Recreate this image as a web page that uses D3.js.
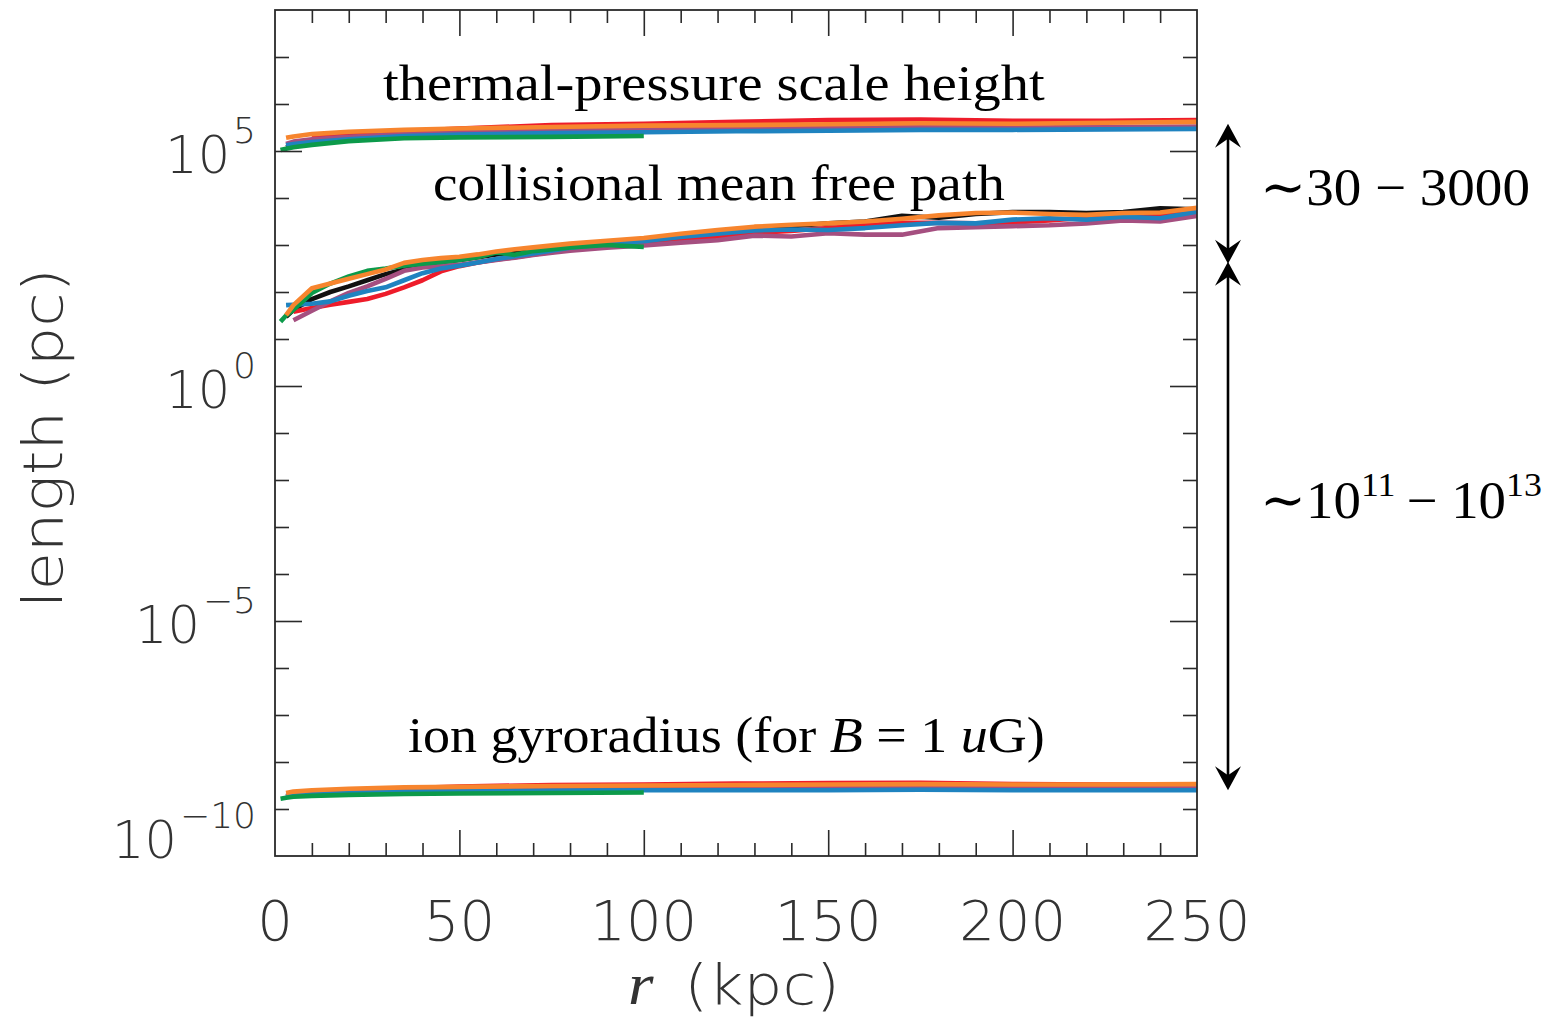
<!DOCTYPE html>
<html>
<head>
<meta charset="utf-8">
<script src="https://cdn.jsdelivr.net/npm/d3@7"></script>
<style>
  html, body { margin: 0; padding: 0; background: #fff; }
  svg { display: block; }
</style>
</head>
<body>
<svg id="chart" width="1552" height="1024"></svg>
<script>
// Radii (kpc) at which the profiles are sampled
const rCoarse = [1.5, 3, 5, 10, 20, 35, 50, 75, 100, 125, 150, 175, 200, 225, 250];
const rFine = [1.5, 3, 5, 10, 15, 20, 25, 30, 35, 40, 45, 50, 55, 60, 65, 70, 80, 90, 100,
               110, 120, 130, 140, 150, 160, 170, 180, 190, 200, 210, 220, 230, 240, 250];

// log10 of thermal-pressure scale height (pc), on rCoarse
const heightBlack  = [null, 5.08, 5.12, 5.17, 5.24, 5.33, 5.38, 5.42, 5.45, 5.47, 5.49, 5.51, 5.49, 5.48, 5.50];
const heightRed    = [null, null, null, 5.30, 5.36, 5.42, 5.48, 5.55, 5.58, 5.62, 5.66, 5.67, 5.64, 5.64, 5.66];
const heightPurple = [null, 5.15, 5.20, 5.25, 5.30, 5.36, 5.40, 5.44, 5.47, 5.49, 5.50, 5.51, 5.50, 5.51, 5.52];
const heightBlue   = [null, 5.12, 5.15, 5.19, 5.25, 5.32, 5.35, 5.38, 5.40, 5.42, 5.43, 5.45, 5.45, 5.46, 5.47];
const heightGreen  = [5.02, 5.05, 5.08, 5.13, 5.21, 5.27, 5.29, 5.30, 5.32, null, null, null, null, null, null];
const heightOrange = [null, 5.28, 5.31, 5.36, 5.41, 5.45, 5.48, 5.51, 5.54, 5.55, 5.57, 5.59, 5.58, 5.60, 5.62];

// log10 of collisional mean free path (pc), on rFine
const mfpBlack  = [null, 1.47, 1.62, 1.85, 2.00, 2.12, 2.25, 2.38, 2.48, 2.58, 2.64, 2.68, 2.74, 2.80, 2.85, 2.90, 2.98,
                   3.05, 3.10, 3.20, 3.28, 3.36, 3.40, 3.46, 3.50, 3.62, 3.58, 3.66, 3.70, 3.70, 3.68, 3.70, 3.78, 3.76];
const mfpRed    = [null, null, 1.58, 1.66, 1.73, 1.79, 1.85, 1.96, 2.10, 2.25, 2.44, 2.55, 2.63, 2.69, 2.74, 2.80, 2.90,
                   2.97, 3.04, 3.12, 3.18, 3.26, 3.30, 3.36, 3.42, 3.47, 3.47, 3.46, 3.48, 3.52, 3.58, 3.62, 3.64, 3.68];
const mfpPurple = [null, null, 1.40, 1.60, 1.80, 1.98, 2.12, 2.28, 2.45, 2.52, 2.55, 2.58, 2.63, 2.68, 2.73, 2.79, 2.88,
                   2.94, 2.99, 3.05, 3.10, 3.20, 3.18, 3.25, 3.22, 3.22, 3.36, 3.38, 3.40, 3.42, 3.46, 3.52, 3.50, 3.62];
const mfpBlue   = [null, 1.72, 1.73, 1.75, 1.80, 1.92, 2.02, 2.10, 2.25, 2.40, 2.50, 2.56, 2.63, 2.70, 2.76, 2.82, 2.94,
                   3.02, 3.08, 3.17, 3.24, 3.31, 3.33, 3.32, 3.36, 3.42, 3.47, 3.46, 3.54, 3.57, 3.54, 3.60, 3.57, 3.71];
const mfpGreen  = [1.37, 1.50, 1.62, 1.98, 2.18, 2.33, 2.45, 2.50, 2.56, 2.60, 2.64, 2.68, 2.74, 2.84, 2.79, 2.87, 2.95,
                   3.00, 2.96, null, null, null, null, null, null, null, null, null, null, null, null, null, null, null];
const mfpOrange = [null, 1.51, 1.72, 2.08, 2.18, 2.28, 2.38, 2.48, 2.62, 2.68, 2.72, 2.75, 2.80, 2.86, 2.91, 2.95, 3.03,
                   3.09, 3.15, 3.24, 3.32, 3.39, 3.43, 3.46, 3.50, 3.56, 3.63, 3.68, 3.69, 3.66, 3.64, 3.68, 3.69, 3.79];

// log10 of ion gyroradius (pc) for B = 1 uG, on rCoarse
const gyroBlack  = [null, -8.74, -8.71, -8.67, -8.63, -8.60, -8.58, -8.57, -8.56, -8.55, -8.55, -8.54, -8.55, -8.56, -8.56];
const gyroRed    = [null, null, null, -8.64, -8.60, -8.56, -8.52, -8.49, -8.48, -8.46, -8.45, -8.44, -8.47, -8.48, -8.48];
const gyroPurple = [null, -8.72, -8.70, -8.66, -8.62, -8.59, -8.57, -8.56, -8.55, -8.54, -8.54, -8.53, -8.54, -8.54, -8.54];
const gyroBlue   = [null, -8.74, -8.72, -8.69, -8.66, -8.63, -8.62, -8.61, -8.60, -8.60, -8.60, -8.59, -8.60, -8.60, -8.60];
const gyroGreen  = [-8.78, -8.76, -8.74, -8.72, -8.70, -8.68, -8.67, -8.66, -8.65, null, null, null, null, null, null];
const gyroOrange = [null, -8.66, -8.63, -8.60, -8.57, -8.54, -8.53, -8.51, -8.50, -8.49, -8.48, -8.47, -8.48, -8.48, -8.47];

// Line colours, in drawing order
const runColors = ["#111111", "#ee1c2a", "#a54f80", "#1f83c0", "#0c9a4a", "#f7852e"];

// Axis ticks
const xMajorTicks = [0, 50, 100, 150, 200, 250];
const yLabelExponents = [5, 0, -5, -10];
const yRangeExponents = [-10, 8];

// Level spans marked by the double arrows (log10 pc)
const arrowLevels = [5.58, 2.6, -8.6];

// ---------------------------------------------------------------------------
const svg = d3.select("#chart");
const frame = { left: 275, right: 1197, top: 10, bottom: 856 };

const x = d3.scaleLinear().domain([0, 250]).range([frame.left, frame.right]);
const y = d3.scaleLog()
  .domain([Math.pow(10, yRangeExponents[0]), Math.pow(10, yRangeExponents[1])])
  .range([frame.bottom, frame.top]);

const toPoints = (radii, logs) => radii.map((r, i) => ({ r, v: logs[i] == null ? null : Math.pow(10, logs[i]) }));

const groups = [
  { radii: rCoarse, runs: [heightBlack, heightRed, heightPurple, heightBlue, heightGreen, heightOrange] },
  { radii: rFine,   runs: [mfpBlack, mfpRed, mfpPurple, mfpBlue, mfpGreen, mfpOrange] },
  { radii: rCoarse, runs: [gyroBlack, gyroRed, gyroPurple, gyroBlue, gyroGreen, gyroOrange] }
];

const line = d3.line()
  .defined(d => d.v != null)
  .x(d => x(d.r))
  .y(d => y(d.v));

const plot = svg.append("g");
plot.append("defs").append("clipPath").attr("id", "plotClip")
  .append("rect")
  .attr("x", frame.left).attr("y", frame.top)
  .attr("width", frame.right - frame.left).attr("height", frame.bottom - frame.top);

const linesG = plot.append("g").attr("clip-path", "url(#plotClip)");
groups.forEach(g => {
  g.runs.forEach((logs, k) => {
    linesG.append("path")
      .datum(toPoints(g.radii, logs))
      .attr("d", line)
      .attr("fill", "none")
      .attr("stroke", runColors[k])
      .attr("stroke-width", 4.6)
      .attr("stroke-linejoin", "round")
      .attr("stroke-linecap", "butt");
  });
});

// Tick marks on all four sides, pointing inward
const axisColor = "#2a2a2a";
const xMinor = d3.range(10, 250, 10).filter(v => v % 50 !== 0);
const xMajor = xMajorTicks.filter(v => v > 0 && v < 250);
const yMinor = d3.range(yRangeExponents[0] + 1, yRangeExponents[1]).filter(e => e % 5 !== 0).map(e => Math.pow(10, e));
const yMajor = d3.range(yRangeExponents[0] + 1, yRangeExponents[1]).filter(e => e % 5 === 0).map(e => Math.pow(10, e));

function tickAxis(axisFn, scale, values, size, translate) {
  const g = svg.append("g").attr("transform", translate)
    .call(axisFn(scale).tickValues(values).tickSize(size).tickFormat(""));
  g.select(".domain").remove();
  g.selectAll(".tick line").attr("stroke", axisColor).attr("stroke-width", 1.6);
}
tickAxis(d3.axisBottom, x, xMinor, -13, `translate(0,${frame.bottom})`);
tickAxis(d3.axisBottom, x, xMajor, -26, `translate(0,${frame.bottom})`);
tickAxis(d3.axisTop, x, xMinor, -13, `translate(0,${frame.top})`);
tickAxis(d3.axisTop, x, xMajor, -26, `translate(0,${frame.top})`);
tickAxis(d3.axisLeft, y, yMinor, -14, `translate(${frame.left},0)`);
tickAxis(d3.axisLeft, y, yMajor, -27, `translate(${frame.left},0)`);
tickAxis(d3.axisRight, y, yMinor, -14, `translate(${frame.right},0)`);
tickAxis(d3.axisRight, y, yMajor, -27, `translate(${frame.right},0)`);

svg.append("rect")
  .attr("x", frame.left).attr("y", frame.top)
  .attr("width", frame.right - frame.left).attr("height", frame.bottom - frame.top)
  .attr("fill", "none").attr("stroke", axisColor).attr("stroke-width", 1.8);

// Tick labels
const tickFont = "'DejaVu Sans', sans-serif";
const tickFill = "#333";
svg.append("g").selectAll("text").data(xMajorTicks).join("text")
  .attr("x", d => x(d)).attr("y", frame.bottom + 84)
  .attr("text-anchor", "middle")
  .attr("font-family", tickFont).attr("font-weight", 200).attr("font-size", 56)
  .attr("fill", tickFill)
  .text(d => d);

yLabelExponents.forEach(e => {
  const ty = y(Math.pow(10, e));
  const base = Math.min(ty + 22, frame.bottom + 2);
  const t = svg.append("text")
    .attr("x", 256).attr("y", base)
    .attr("text-anchor", "end")
    .attr("font-family", tickFont).attr("font-weight", 200).attr("font-size", 51)
    .attr("fill", tickFill);
  t.append("tspan").text("10");
  t.append("tspan").attr("font-size", 36).attr("dy", -30).attr("dx", 3)
    .text(e < 0 ? "\u2212" + Math.abs(e) : String(e));
});

// Fit a text element horizontally to a target width by scaling it
function fittedText(px, py, width, anchor, rotate, build, attrs) {
  const g = svg.append("g").attr("transform", `translate(${px},${py}) rotate(${rotate})`);
  const t = g.append("text").attr("x", 0).attr("y", 0).attr("text-anchor", anchor);
  Object.entries(attrs).forEach(([k, v]) => t.attr(k, v));
  build(t);
  const w = t.node().getBBox().width;
  if (w > 0) t.attr("transform", `scale(${width / w},1)`);
  return t;
}

const serif = "'Liberation Serif', 'DejaVu Serif', serif";

// Axis titles
fittedText(62, 438, 340, "middle", -90, t => t.text("length (pc)"),
  { "font-family": tickFont, "font-weight": 200, "font-size": 56, fill: tickFill });
fittedText(734, 1004, 212, "middle", 0, t => {
  t.append("tspan").attr("font-family", serif).attr("font-style", "italic").attr("font-size", 60).text("r");
  t.append("tspan").text("\u2002(kpc)");
}, { "font-family": tickFont, "font-weight": 200, "font-size": 56, fill: tickFill });

// Curve annotations
const annot = { "font-family": serif, "font-size": 51, fill: "#000" };
fittedText(383, 100, 662, "start", 0, t => t.text("thermal-pressure scale height"), annot);
fittedText(433, 200, 572, "start", 0, t => t.text("collisional mean free path"), annot);
fittedText(408, 752, 637, "start", 0, t => {
  t.append("tspan").text("ion gyroradius (for ");
  t.append("tspan").attr("font-style", "italic").text("B");
  t.append("tspan").text(" = 1 ");
  t.append("tspan").attr("font-style", "italic").text("u");
  t.append("tspan").text("G)");
}, annot);

// Double arrows spanning the level separations
const arrowX = 1228;
function arrowHead(tipY, dir) {
  // dir = -1 points up, +1 points down
  const len = 24, notch = 15, half = 13;
  const p = d3.path();
  p.moveTo(arrowX, tipY);
  p.lineTo(arrowX - half, tipY - dir * len);
  p.lineTo(arrowX, tipY - dir * notch);
  p.lineTo(arrowX + half, tipY - dir * len);
  p.closePath();
  svg.append("path").attr("d", p.toString()).attr("fill", "#000");
}
for (let i = 0; i < arrowLevels.length - 1; i++) {
  const y0 = y(Math.pow(10, arrowLevels[i])) + (i === 0 ? 0 : -2);
  const y1 = y(Math.pow(10, arrowLevels[i + 1]));
  svg.append("line")
    .attr("x1", arrowX).attr("x2", arrowX)
    .attr("y1", y0 + 10).attr("y2", y1 - 10)
    .attr("stroke", "#000").attr("stroke-width", 2.6);
  arrowHead(y0, -1);
  arrowHead(y1, 1);
}

const rightAnnot = { "font-family": serif, "font-size": 52, fill: "#000" };
fittedText(1260, 205, 270, "start", 0, t => t.text("\u223C30 \u2212 3000"), rightAnnot);
fittedText(1260, 518, 282, "start", 0, t => {
  t.append("tspan").text("\u223C10");
  t.append("tspan").attr("font-size", 34).attr("dy", -22).text("11");
  t.append("tspan").attr("dy", 22).text("\u2009\u2212 10");
  t.append("tspan").attr("font-size", 34).attr("dy", -22).text("13");
}, rightAnnot);
</script>
</body>
</html>
